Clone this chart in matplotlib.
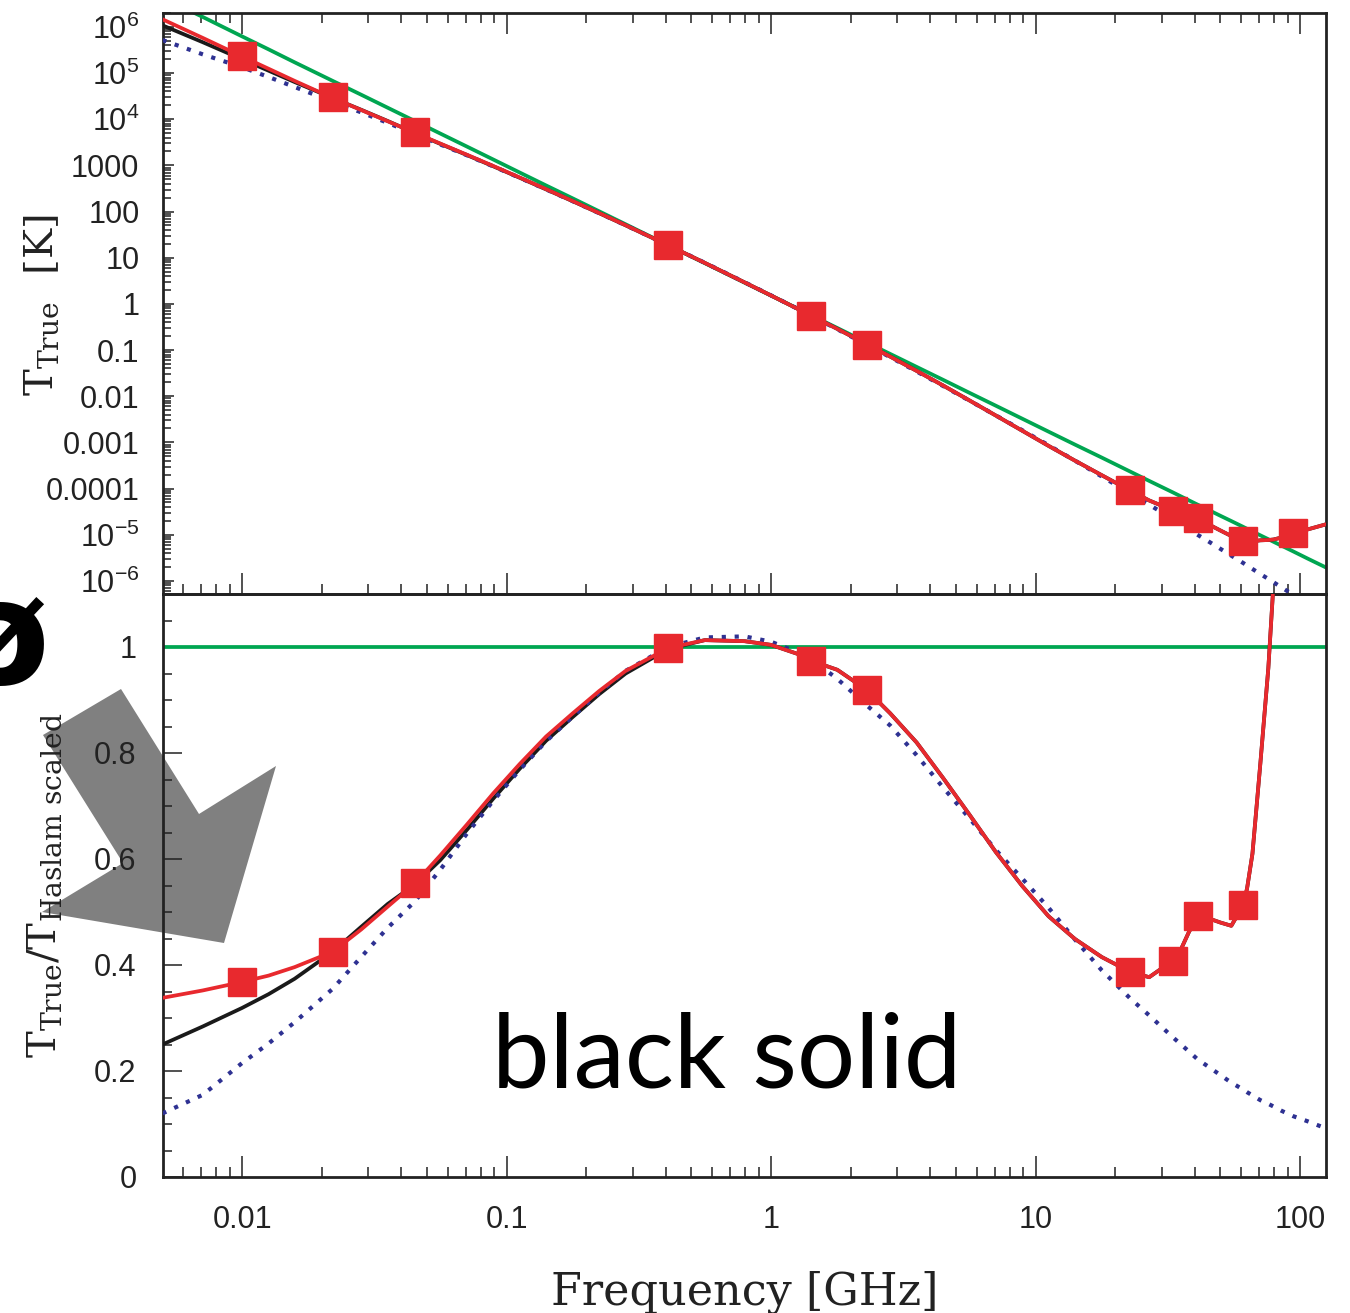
import numpy as np
import matplotlib
matplotlib.use("Agg")
import matplotlib.pyplot as plt
from matplotlib.ticker import FixedLocator, FixedFormatter, NullFormatter, LogLocator
from matplotlib.patches import Polygon

# ---------------- data ----------------
freq_ghz = [0.005, 0.0071, 0.010, 0.0126, 0.0158, 0.022, 0.0282, 0.0355, 0.045,
            0.0562, 0.0708, 0.0891, 0.112, 0.141, 0.178, 0.224, 0.282, 0.408,
            0.562, 0.794, 1.0, 1.26, 1.42, 1.78, 2.3, 2.82, 3.55, 4.47, 5.62,
            7.08, 8.91, 11.2, 14.1, 17.8, 22.8, 26.9, 33.0, 35.5, 38.0, 41.0,
            45.7, 50.1, 55.0, 61.0, 63.1, 66.1, 70.8, 75.9, 79.4, 85.1, 94.0,
            107.0, 125.0]

ratio_red = [0.338, 0.352, 0.368, 0.380, 0.396, 0.425, 0.467, 0.510, 0.554,
             0.607, 0.665, 0.724, 0.779, 0.831, 0.875, 0.917, 0.955, 0.998,
             1.013, 1.011, 1.004, 0.987, 0.974, 0.957, 0.919, 0.875, 0.820,
             0.753, 0.684, 0.613, 0.549, 0.492, 0.449, 0.415, 0.387, 0.377,
             0.408, 0.430, 0.462, 0.492, 0.487, 0.480, 0.474, 0.513, 0.545,
             0.610, 0.780, 0.960, 1.120, 1.50, 2.40, 4.30, 8.50]

ratio_black = [0.250, 0.284, 0.319, 0.345, 0.374, 0.425, 0.472, 0.515, 0.552,
               0.598, 0.655, 0.714, 0.770, 0.823, 0.868, 0.911, 0.950, 0.996,
               1.013, 1.011, 1.004, 0.987, 0.974, 0.957, 0.919, 0.875, 0.820,
               0.753, 0.684, 0.613, 0.549, 0.492, 0.449, 0.415, 0.387, 0.377,
               0.408, 0.430, 0.462, 0.492, 0.487, 0.480, 0.474, 0.513, 0.545,
               0.610, 0.780, 0.960, 1.120, 1.50, 2.40, 4.30, 8.50]

ratio_blue = [0.120, 0.155, 0.215, 0.252, 0.292, 0.355, 0.415, 0.470, 0.520,
              0.580, 0.648, 0.710, 0.768, 0.822, 0.869, 0.914, 0.955, 1.000,
              1.018, 1.020, 1.010, 0.990, 0.977, 0.940, 0.890, 0.852, 0.796,
              0.735, 0.677, 0.617, 0.563, 0.508, 0.448, 0.390, 0.337, 0.305,
              0.264, 0.250, 0.237, 0.222, 0.206, 0.192, 0.178, 0.165, 0.160,
              0.154, 0.145, 0.138, 0.133, 0.125, 0.115, 0.105, 0.092]

# log10 of the scaled Haslam temperature [K] (green line) at freq_ghz
log_t_haslam = [6.636, 6.215, 5.794, 5.513, 5.233, 4.831, 4.531, 4.250, 3.961,
                3.689, 3.408, 3.127, 2.847, 2.566, 2.285, 2.005, 1.724, 1.272,
                0.882, 0.461, 0.180, -0.101, -0.247, -0.522, -0.836, -1.083,
                -1.364, -1.644, -1.925, -2.206, -2.487, -2.767, -3.048, -3.329,
                -3.632, -3.834, -4.081, -4.171, -4.255, -4.348, -4.480, -4.592,
                -4.704, -4.830, -4.873, -4.929, -5.013, -5.097, -5.153, -5.237,
                -5.358, -5.518, -5.706]

marker_freq = [0.010, 0.022, 0.045, 0.408, 1.42, 2.3, 22.8, 33.0, 41.0, 61.0, 94.0]
marker_temp = [2.3e5, 3.0e4, 5.2e3, 18.7, 0.54, 0.13, 9.5e-5, 3.3e-5, 2.3e-5, 7.4e-6, 1.1e-5]
marker_ratio = [0.368, 0.425, 0.554, 0.998, 0.974, 0.919, 0.387, 0.408, 0.492, 0.513, 2.4]

temp_ticks = [1e6, 1e5, 1e4, 1e3, 1e2, 1e1, 1e0, 1e-1, 1e-2, 1e-3, 1e-4, 1e-5, 1e-6]
temp_tick_labels = [r"$\mathregular{10^{6}}$", r"$\mathregular{10^{5}}$", r"$\mathregular{10^{4}}$",
                    "1000", "100", "10", "1", "0.1", "0.01", "0.001", "0.0001",
                    r"$\mathregular{10^{-5}}$", r"$\mathregular{10^{-6}}$"]
ratio_ticks = [0.0, 0.2, 0.4, 0.6, 0.8, 1.0]
ratio_tick_labels = ["0", "0.2", "0.4", "0.6", "0.8", "1"]
freq_ticks = [0.01, 0.1, 1, 10, 100]
freq_tick_labels = ["0.01", "0.1", "1", "10", "100"]

# ---------------- styling ----------------
RED = "#E8292E"
GREEN = "#00A651"
BLUE = "#2E3192"
BLACK = "#1A1A1A"
SPINE = "#222222"

W, H = 1350, 1313
fig = plt.figure(figsize=(W / 100, H / 100), dpi=100)
fig.patch.set_facecolor("white")

def fx(x):
    return x / W

def fy(y):
    return 1 - y / H

L, R = 163, 1326
ax1 = fig.add_axes([fx(L), fy(594), (R - L) / W, (594 - 13) / H])
ax2 = fig.add_axes([fx(L), fy(1177), (R - L) / W, (1177 - 594) / H])

f = np.array(freq_ghz)
t_h = 10 ** np.array(log_t_haslam)
lw = 2.7
dot = dict(color=BLUE, lw=3.0, linestyle=(0, (1, 2.1)), solid_joinstyle="round")

# top panel
ax1.plot(f, t_h, color=GREEN, lw=lw, zorder=2)
ax1.plot(f, np.array(ratio_black) * t_h, color=BLACK, lw=lw, zorder=3)
ax1.plot(f, np.array(ratio_blue) * t_h, zorder=4, **dot)
ax1.plot(f, np.array(ratio_red) * t_h, color=RED, lw=lw, zorder=5)
ax1.plot(marker_freq, marker_temp, linestyle="none", marker="s", ms=19.5,
         color=RED, mec=RED, zorder=6)

# bottom panel
ax2.axhline(1.0, color=GREEN, lw=lw, zorder=2)
ax2.plot(f, ratio_black, color=BLACK, lw=lw, zorder=3)
ax2.plot(f, ratio_blue, zorder=4, **dot)
ax2.plot(f, ratio_red, color=RED, lw=lw, zorder=5)
ax2.plot(marker_freq, marker_ratio, linestyle="none", marker="s", ms=19.5,
         color=RED, mec=RED, zorder=6)

xlim = (0.005023, 125.4)
for ax in (ax1, ax2):
    ax.set_facecolor("none")
    ax.set_xscale("log")
    ax.set_xlim(*xlim)
    for s in ax.spines.values():
        s.set_linewidth(2.0)
        s.set_color(SPINE)
    ax.xaxis.set_major_locator(FixedLocator(freq_ticks))
    ax.xaxis.set_minor_locator(LogLocator(base=10, subs=tuple(range(2, 10)), numticks=20))
    ax.xaxis.set_minor_formatter(NullFormatter())

ax1.set_yscale("log")
ax1.set_ylim(5.2e-7, 2.0e6)
ax1.yaxis.set_major_locator(FixedLocator(temp_ticks))
ax1.yaxis.set_major_formatter(FixedFormatter(temp_tick_labels))
ax1.yaxis.set_minor_locator(LogLocator(base=10, subs=tuple(range(2, 10)), numticks=30))
ax1.yaxis.set_minor_formatter(NullFormatter())
ax1.tick_params(axis="x", which="both", direction="in", top=True, bottom=True,
                labelbottom=False, labeltop=False, color=SPINE, width=1.1)
ax1.tick_params(axis="x", which="major", length=15)
ax1.tick_params(axis="x", which="minor", length=7.2)
ax1.tick_params(axis="y", which="both", direction="in", left=True, right=False,
                color=SPINE, width=1.1, pad=17)
ax1.tick_params(axis="y", which="major", length=7.6)
ax1.tick_params(axis="y", which="minor", length=5.8)

ax2.set_ylim(0, 1.1)
ax2.yaxis.set_major_locator(FixedLocator(ratio_ticks))
ax2.yaxis.set_major_formatter(FixedFormatter(ratio_tick_labels))
ax2.yaxis.set_minor_locator(FixedLocator(list(np.arange(0, 1.101, 0.05))))
ax2.xaxis.set_major_formatter(FixedFormatter(freq_tick_labels))
ax2.tick_params(axis="x", which="both", direction="in", top=False, bottom=True,
                color=SPINE, width=1.1, pad=20)
ax2.tick_params(axis="x", which="major", length=15)
ax2.tick_params(axis="x", which="minor", length=7.2)
ax2.tick_params(axis="y", which="both", direction="in", left=True, right=False,
                color=SPINE, width=1.1, pad=19)
ax2.tick_params(axis="y", which="major", length=13.7)
ax2.tick_params(axis="y", which="minor", length=6.5)

for ax in (ax1, ax2):
    for lab in ax.get_xticklabels() + ax.get_yticklabels():
        lab.set_fontfamily("Liberation Sans")
        lab.set_fontsize(22)
        lab.set_color("#222222")

# axis labels
fig.text(fx(42), fy(305), r"$\mathregular{T_{True}\ \ [K]}$", rotation=90,
         ha="center", va="center", fontsize=29, family="DejaVu Serif", color="#222222")
fig.text(fx(45), fy(885), r"$\mathregular{T_{True}/T_{Haslam\ scaled}}$", rotation=90,
         ha="center", va="center", fontsize=29, family="DejaVu Serif", color="#222222")
fig.text(fx(745), fy(1305), "Frequency [GHz]", ha="center", va="baseline",
         fontsize=32, family="DejaVu Serif", color="#222222")

# overlay annotations
arrow_px = [(43, 735), (121, 689), (199, 814), (276, 766), (224, 943), (42, 912), (123, 863)]
arrow = Polygon([(fx(x), fy(y)) for x, y in arrow_px], closed=True,
                transform=fig.transFigure, facecolor="#808080", edgecolor="none", zorder=-1)
fig.patches.append(arrow)

fig.text(fx(492), fy(1088), "black solid", ha="left", va="baseline",
         fontsize=74, family="Lato", color="black")
fig.text(fx(0), fy(683), "\u00f8", ha="center", va="baseline",
         fontsize=105, fontweight="bold", family="DejaVu Sans", color="black")

fig.savefig("out.png", dpi=100, facecolor="white")
